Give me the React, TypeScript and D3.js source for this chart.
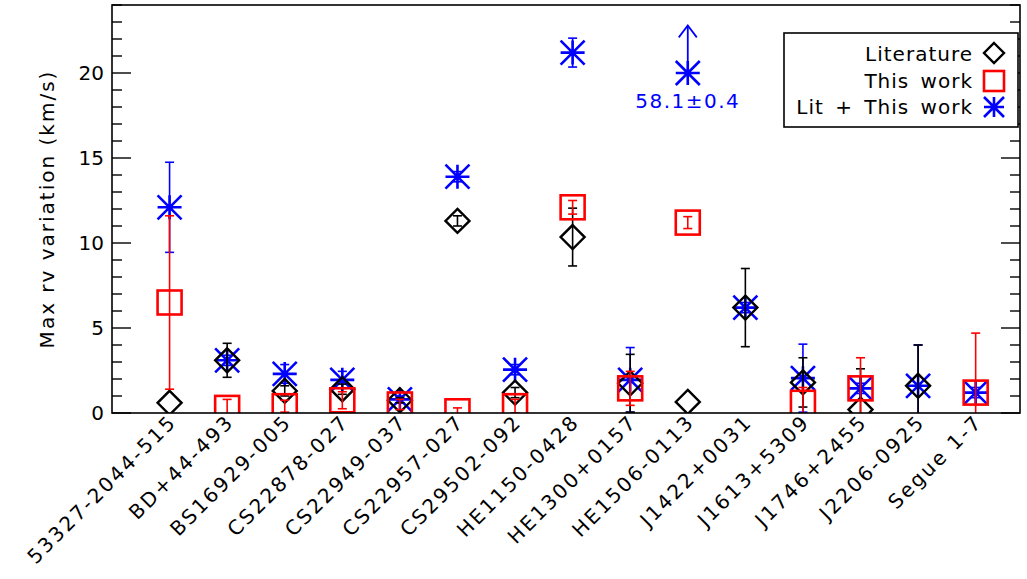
import React from 'react';
import * as d3 from 'd3';

// star names along the x axis
const stars = [
  '53327-2044-515', 'BD+44-493', 'BS16929-005', 'CS22878-027', 'CS22949-037',
  'CS22957-027', 'CS29502-092', 'HE1150-0428', 'HE1300+0157', 'HE1506-0113',
  'J1422+0031', 'J1613+5309', 'J1746+2455', 'J2206-0925', 'Segue 1-7',
];

// Literature (black diamonds)
const litVal = [0.6, 3.1, 1.3, 1.4, 0.75, 11.3, 1.2, 10.35, 1.75, 0.65, 6.2, 1.8, 0.2, 1.6, null];
const litErr = [0, 1.0, 0.3, 0.3, 0.15, 0.3, 0.3, 1.7, 1.7, 0, 2.3, 1.45, 2.4, 2.4, null];

// This work (red squares)
const thisVal = [6.5, 0.3, 0.4, 0.75, 0.5, 0.1, 0.4, 12.1, 1.45, 11.2, null, 0.6, 1.45, null, 1.2];
const thisErr = [5.1, 0.5, 0.35, 0.5, 0.3, 0.2, 0.4, 0.4, 1.0, 0.35, null, 0.9, 1.8, null, 3.5];

// Lit + This work (blue asterisks); HE1506-0113 is off scale (58.1), drawn at 20 with an arrow
const bothVal = [12.1, 3.1, 2.3, 1.95, 0.8, 13.9, 2.55, 21.2, 1.95, 20.0, 6.2, 2.05, 1.45, 1.6, 1.2];
const bothErr = [2.65, 0.3, 0.55, 0.5, 0.2, 0.3, 0.3, 0.85, 1.9, 0, 0.3, 2.0, 0.3, 2.4, 0.3];
const arrowIdx = 9;
const arrowTop = 22.8;
const arrowLabel = '58.1\u00b10.4';

const yMajor = [0, 5, 10, 15, 20];

const W = 1027;
const H = 579;
const left = 112, right = 1020, top = 5, bottom = 413;
const font = 'DejaVu Sans, sans-serif';

export default function App() {
  const x = d3.scaleLinear().domain([-1, 14.77]).range([left, right]);
  const y = d3.scaleLinear().domain([0, 24]).range([bottom, top]);
  const cap = 4.5;

  const errBar = (i: number, v: number | null, e: number | null, color: string) => {
    if (v == null || !e) return null;
    const cx = x(i);
    return (
      <g key={'e' + color + i} stroke={color} strokeWidth={1.6}>
        <line x1={cx} x2={cx} y1={y(v - e)} y2={y(v + e)} />
        <line x1={cx - cap} x2={cx + cap} y1={y(v - e)} y2={y(v - e)} />
        <line x1={cx - cap} x2={cx + cap} y1={y(v + e)} y2={y(v + e)} />
      </g>
    );
  };

  const diamond = (cx: number, cy: number, r: number, key: string) => (
    <path key={key} d={`M${cx},${cy - r}L${cx + r},${cy}L${cx},${cy + r}L${cx - r},${cy}Z`}
      fill="none" stroke="#000" strokeWidth={2.4} />
  );
  const square = (cx: number, cy: number, r: number, key: string) => (
    <rect key={key} x={cx - r} y={cy - r} width={2 * r} height={2 * r}
      fill="none" stroke="#ff0000" strokeWidth={2.6} />
  );
  const asterisk = (cx: number, cy: number, r: number, key: string) => (
    <path key={key}
      d={`M${cx - r},${cy}L${cx + r},${cy}M${cx},${cy - r}L${cx},${cy + r}M${cx - r},${cy - r}L${cx + r},${cy + r}M${cx - r},${cy + r}L${cx + r},${cy - r}`}
      stroke="#0000ff" strokeWidth={2.6} fill="none" />
  );

  const minor = d3.range(0, 25, 1).filter(v => v % 5 !== 0);

  return (
    <svg width={W} height={H} style={{ position: 'absolute', left: 0, top: 0, background: '#fff' }}
      fontFamily={font}>
      <defs>
        <clipPath id="plot">
          <rect x={left} y={top} width={right - left} height={bottom - top} />
        </clipPath>
      </defs>

      {/* data */}
      <g clipPath="url(#plot)">
        {bothVal.map((v, i) => errBar(i, v, bothErr[i], '#0000ff'))}
        {bothVal.map((v, i) => asterisk(x(i), y(v), 12, 'b' + i))}
        {litVal.map((v, i) => errBar(i, v, litErr[i], '#000'))}
        {litVal.map((v, i) => v == null ? null : diamond(x(i), y(v), 12, 'd' + i))}
        {thisVal.map((v, i) => errBar(i, v, thisErr[i], '#ff0000'))}
        {thisVal.map((v, i) => v == null ? null : square(x(i), y(v), 12, 's' + i))}
        <g stroke="#0000ff" strokeWidth={1.8} fill="none">
          <line x1={x(arrowIdx)} x2={x(arrowIdx)} y1={y(bothVal[arrowIdx])} y2={y(arrowTop)} />
          <path d={`M${x(arrowIdx) - 9},${y(arrowTop) + 12}L${x(arrowIdx)},${y(arrowTop)}L${x(arrowIdx) + 9},${y(arrowTop) + 12}`} />
        </g>
      </g>
      <text x={x(arrowIdx)} y={108} textAnchor="middle" fontSize={20} letterSpacing={1.5} fill="#0000ff">
        {arrowLabel}
      </text>

      {/* frame and ticks */}
      <rect x={left} y={top} width={right - left} height={bottom - top} fill="none" stroke="#000" strokeWidth={1.6} />
      <g stroke="#000" strokeWidth={1.4}>
        {yMajor.map(v => (
          <g key={'M' + v}>
            <line x1={left} x2={left + 19} y1={y(v)} y2={y(v)} />
            <line x1={right} x2={right - 19} y1={y(v)} y2={y(v)} />
          </g>
        ))}
        {minor.map(v => (
          <g key={'m' + v}>
            <line x1={left} x2={left + 10} y1={y(v)} y2={y(v)} />
            <line x1={right} x2={right - 10} y1={y(v)} y2={y(v)} />
          </g>
        ))}
      </g>
      {yMajor.map(v => (
        <text key={'t' + v} x={104} y={y(v) + 7} textAnchor="end" fontSize={20} fill="#000">{v}</text>
      ))}
      <text transform={`translate(54,${(top + bottom) / 2}) rotate(-90)`} textAnchor="middle"
        fontSize={20} letterSpacing={2} fill="#000">Max rv variation (km/s)</text>

      {/* x labels */}
      {stars.map((s, i) => (
        <text key={'x' + i} transform={`translate(${x(i) + 8},${bottom + 10}) rotate(-45)`}
          textAnchor="end" fontSize={20} letterSpacing={2.4} fill="#000">{s}</text>
      ))}

      {/* legend */}
      <rect x={784} y={33} width={234} height={94} fill="#fff" stroke="#000" strokeWidth={1.6} />
      <g fontSize={20} letterSpacing={1} wordSpacing={4} fill="#000" textAnchor="end">
        <text x={973} y={61}>Literature</text>
        <text x={973} y={88}>This work</text>
        <text x={973} y={114}>Lit + This work</text>
      </g>
      {diamond(994, 53, 10, 'ld')}
      {square(994, 81, 10, 'ls')}
      {asterisk(994, 107, 10, 'la')}
    </svg>
  );
}
